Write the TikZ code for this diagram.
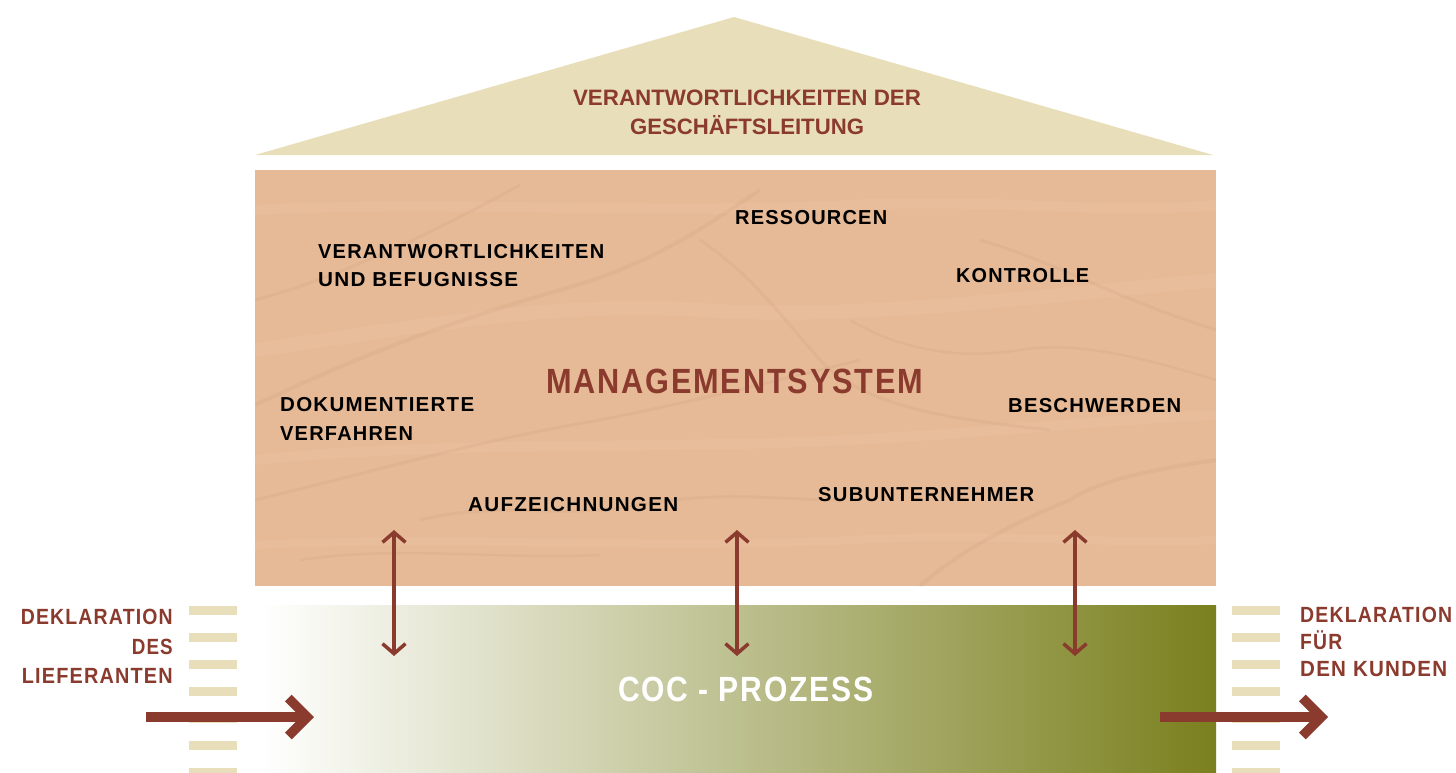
\documentclass[tikz,border=0pt]{standalone}
\usepackage{fontspec}
\setmainfont{Liberation Sans}
\newfontfamily\trk{Liberation Sans}[LetterSpace=6]
\usetikzlibrary{arrows.meta}
\definecolor{roof}{HTML}{E8DFBA}
\definecolor{rust}{HTML}{8B3A2E}
\definecolor{wood}{HTML}{E6BA97}
\definecolor{grain}{HTML}{C48F66}
\definecolor{woodlight}{HTML}{EDC7A8}
\definecolor{olive}{HTML}{7A801E}
\newcommand{\tw}[2]{\resizebox{#1pt}{\height}{#2}}
\tikzset{
  x=1pt, y={(0pt,-1pt)},
  rooftxt/.style={inner sep=0pt, anchor=base, text=rust, font=\bfseries\fontsize{22.3}{26}\selectfont},
  woodtxt/.style={inner sep=0pt, anchor=base west, text=black, font=\trk\bfseries\fontsize{20.2}{24}\selectfont},
  bigtxt/.style={inner sep=0pt, anchor=base west, font=\trk\bfseries\fontsize{35}{40}\selectfont},
  sidetxt/.style={inner sep=0pt, text=rust, font=\trk\bfseries\fontsize{22}{26}\selectfont},
  grainline/.style={draw=grain, opacity=0.12, line width=#1},
  lightline/.style={draw=woodlight, opacity=0.3, line width=#1},
  bigarrow/.style={draw=rust, line width=9.5pt, -{Straight Barb[length=19pt, width=38pt, sharp]}},
  dblarrow/.style={draw=rust, line width=3.5pt, {Straight Barb[length=10pt, width=23pt, sharp]}-{Straight Barb[length=10pt, width=23pt, sharp]}},
  stripe/.style={fill=roof}
}
\begin{document}
\begin{tikzpicture}
\useasboundingbox (0,0) rectangle (1456,773);
% roof
\fill[roof] (255,155) -- (734,17) -- (1213,155) -- cycle;
\node[rooftxt] (roof1) at (747,106) {\tw{348}{VERANTWORTLICHKEITEN DER}};
\node[rooftxt] (roof2) at (747,135) {\tw{234}{GESCHÄFTSLEITUNG}};
% wood block
\begin{scope}
\clip (255,170) rectangle (1216,586);
\fill[wood] (255,170) rectangle (1216,586);
\draw[lightline=14pt] (255,350) .. controls (400,330) and (550,300) .. (700,310) .. controls (850,320) and (1000,300) .. (1216,280);
\draw[lightline=10pt] (255,460) .. controls (450,440) and (650,450) .. (850,440) .. controls (1000,432) and (1100,420) .. (1216,415);
\draw[lightline=10pt] (255,210) .. controls (450,200) and (650,215) .. (850,205) .. controls (1000,198) and (1100,215) .. (1216,205);
\draw[lightline=8pt] (255,545) .. controls (450,535) and (650,550) .. (850,540) .. controls (1000,532) and (1100,545) .. (1216,540);
\draw[grainline=4pt] (255,405) .. controls (330,370) and (420,330) .. (560,290) .. controls (650,265) and (700,230) .. (760,190);
\draw[grainline=3pt] (255,300) .. controls (330,280) and (420,240) .. (520,185);
\draw[grainline=3pt] (255,500) .. controls (380,470) and (480,440) .. (600,420) .. controls (700,400) and (780,380) .. (860,360);
\draw[grainline=3pt] (700,240) .. controls (760,280) and (790,330) .. (830,370) .. controls (880,410) and (960,420) .. (1050,430);
\draw[grainline=2.5pt] (850,320) .. controls (900,350) and (960,360) .. (1020,350) .. controls (1080,340) and (1150,360) .. (1216,380);
\draw[grainline=3pt] (420,520) .. controls (500,500) and (560,520) .. (640,505) .. controls (720,490) and (780,500) .. (840,500);
\draw[grainline=4pt] (920,586) .. controls (960,550) and (1020,520) .. (1070,500) .. controls (1100,480) and (1150,470) .. (1216,460);
\draw[grainline=3pt] (980,240) .. controls (1050,260) and (1120,300) .. (1216,330);
\draw[grainline=2.5pt] (300,560) .. controls (400,545) and (500,560) .. (600,555);
\end{scope}
% green process block
\shade[left color=white, right color=olive] (262,605) rectangle (1216,773);
% stripes
\foreach \yy in {606,633,660,687,714,741,768} {
  \fill[stripe] (189,\yy) rectangle ++(48,9);
  \fill[stripe] (1232,\yy) rectangle ++(48,9);
}
% wood labels
\node[woodtxt] (verA) at (318,258) {\tw{286}{VERANTWORTLICHKEITEN}};
\node[woodtxt] (verB) at (318,286) {\tw{200}{UND BEFUGNISSE}};
\node[woodtxt] (res) at (735,224) {\tw{152}{RESSOURCEN}};
\node[woodtxt] (kon) at (956,282) {\tw{133}{KONTROLLE}};
\node[woodtxt] (dokA) at (280,411) {\tw{194}{DOKUMENTIERTE}};
\node[woodtxt] (dokB) at (280,440) {\tw{133}{VERFAHREN}};
\node[woodtxt] (bes) at (1008,412) {\tw{173}{BESCHWERDEN}};
\node[woodtxt] (auf) at (468,511) {\tw{210}{AUFZEICHNUNGEN}};
\node[woodtxt] (sub) at (818,501) {\tw{216}{SUBUNTERNEHMER}};
\node[bigtxt, text=rust] (man) at (546,393) {\tw{377}{MANAGEMENTSYSTEM}};
\node[bigtxt, text=white] (coc) at (618,701) {\tw{255}{COC - PROZESS}};
% side labels
\node[sidetxt, anchor=base east] (inA) at (173,624) {\tw{152}{DEKLARATION}};
\node[sidetxt, anchor=base east] (inB) at (173,654) {\tw{41}{DES}};
\node[sidetxt, anchor=base east] (inC) at (173,683) {\tw{151}{LIEFERANTEN}};
\node[sidetxt, anchor=base west] (outA) at (1300,622) {\tw{152}{DEKLARATION}};
\node[sidetxt, anchor=base west] (outB) at (1300,649) {\tw{42}{FÜR}};
\node[sidetxt, anchor=base west] (outC) at (1300,676) {\tw{147}{DEN KUNDEN}};
% connectors
\coordinate (inS) at (146,717);
\coordinate (inE) at (314,717);
\coordinate (outS) at (1160,717);
\coordinate (outE) at (1328,717);
\draw[bigarrow] (inS) -- (inE);
\draw[bigarrow] (outS) -- (outE);
\coordinate (d1t) at (394,530); \coordinate (d1b) at (394,656);
\coordinate (d2t) at (737,530); \coordinate (d2b) at (737,656);
\coordinate (d3t) at (1075,530); \coordinate (d3b) at (1075,656);
\draw[dblarrow] (d1t) -- (d1b);
\draw[dblarrow] (d2t) -- (d2b);
\draw[dblarrow] (d3t) -- (d3b);
\end{tikzpicture}
\end{document}
